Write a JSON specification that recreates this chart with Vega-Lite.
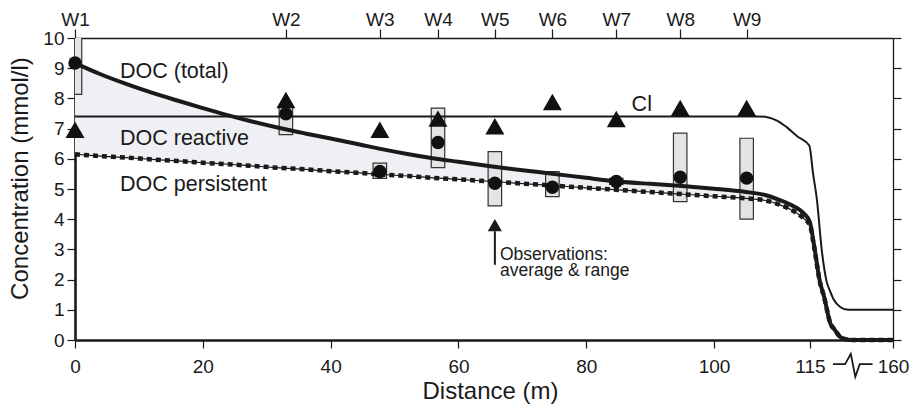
{
  "$schema": "https://vega.github.io/schema/vega-lite/v6.json",
  "width": 818,
  "height": 302,
  "autosize": {"type": "none"},
  "padding": {"left": 75, "top": 38, "right": 21, "bottom": 66},
  "config": {
    "font": "Liberation Sans",
    "view": {"stroke": null},
    "scale": {"continuousPadding": 0},
    "axis": {"labelFont": "Liberation Sans", "titleFont": "Liberation Sans", "labelColor": "#1a1a1a", "titleColor": "#1a1a1a", "domainColor": "#1a1a1a", "tickColor": "#1a1a1a", "grid": false, "titleFontWeight": "normal"}
  },
  "datasets": {
    "doc": [
      {"x": 0, "total": 9.17, "persistent": 6.15},
      {"x": 4, "total": 8.8, "persistent": 6.09},
      {"x": 8, "total": 8.48, "persistent": 6.04},
      {"x": 12, "total": 8.19, "persistent": 5.98},
      {"x": 16, "total": 7.93, "persistent": 5.93},
      {"x": 20, "total": 7.68, "persistent": 5.87},
      {"x": 24, "total": 7.44, "persistent": 5.82},
      {"x": 28, "total": 7.22, "persistent": 5.76},
      {"x": 32, "total": 7.02, "persistent": 5.7},
      {"x": 36, "total": 6.84, "persistent": 5.65},
      {"x": 40, "total": 6.67, "persistent": 5.59},
      {"x": 44, "total": 6.5, "persistent": 5.54},
      {"x": 48, "total": 6.32, "persistent": 5.48},
      {"x": 52, "total": 6.16, "persistent": 5.43},
      {"x": 56, "total": 6.02, "persistent": 5.37},
      {"x": 60, "total": 5.9, "persistent": 5.32},
      {"x": 65, "total": 5.75, "persistent": 5.25},
      {"x": 70, "total": 5.62, "persistent": 5.18},
      {"x": 75, "total": 5.5, "persistent": 5.11},
      {"x": 80, "total": 5.37, "persistent": 5.04},
      {"x": 85, "total": 5.25, "persistent": 4.97},
      {"x": 90, "total": 5.17, "persistent": 4.9},
      {"x": 95, "total": 5.1, "persistent": 4.83},
      {"x": 100, "total": 5.01, "persistent": 4.76},
      {"x": 105, "total": 4.9, "persistent": 4.69},
      {"x": 108, "total": 4.8, "persistent": 4.62},
      {"x": 110, "total": 4.66, "persistent": 4.5},
      {"x": 112, "total": 4.48, "persistent": 4.32},
      {"x": 114, "total": 4.2, "persistent": 4.03},
      {"x": 115, "total": 3.9, "persistent": 3.8},
      {"x": 115.6, "total": 3.2, "persistent": 3.15},
      {"x": 116.6, "total": 1.9, "persistent": 1.88},
      {"x": 117.2, "total": 1.45, "persistent": 1.44},
      {"x": 118.2, "total": 0.55, "persistent": 0.55},
      {"x": 118.8, "total": 0.36, "persistent": 0.36},
      {"x": 119.7, "total": 0.11, "persistent": 0.11},
      {"x": 120.5, "total": 0.03, "persistent": 0.03},
      {"x": 121.5, "total": 0, "persistent": 0},
      {"x": 128, "total": 0, "persistent": 0}
    ],
    "cl": [
      {"x": 0, "cl": 7.4},
      {"x": 50, "cl": 7.4},
      {"x": 100, "cl": 7.4},
      {"x": 107, "cl": 7.4},
      {"x": 108.5, "cl": 7.37},
      {"x": 110, "cl": 7.25},
      {"x": 111.4, "cl": 7.04},
      {"x": 113, "cl": 6.75},
      {"x": 114.9, "cl": 6.44},
      {"x": 115.5, "cl": 5.5},
      {"x": 116.1, "cl": 4.64},
      {"x": 116.85, "cl": 2.98},
      {"x": 117.6, "cl": 1.95},
      {"x": 118.15, "cl": 1.62},
      {"x": 118.7, "cl": 1.35},
      {"x": 119.7, "cl": 1.1},
      {"x": 120.5, "cl": 1.02},
      {"x": 121.5, "cl": 1.0},
      {"x": 128, "cl": 1.0}
    ],
    "obs": [
      {"well": "W1", "x": 0, "doc": 9.17, "lo": 8.13, "hi": 10.5, "cl": 6.96},
      {"well": "W2", "x": 33, "doc": 7.49, "lo": 6.8, "hi": 7.75, "cl": 7.95},
      {"well": "W3", "x": 47.7, "doc": 5.58, "lo": 5.35, "hi": 5.86, "cl": 6.96},
      {"well": "W4", "x": 56.8, "doc": 6.54, "lo": 5.71, "hi": 7.68, "cl": 7.33},
      {"well": "W5", "x": 65.7, "doc": 5.19, "lo": 4.44, "hi": 6.24, "cl": 7.08},
      {"well": "W6", "x": 74.7, "doc": 5.06, "lo": 4.75, "hi": 5.58, "cl": 7.88},
      {"well": "W7", "x": 84.7, "doc": 5.25, "lo": 5.15, "hi": 5.35, "cl": 7.32},
      {"well": "W8", "x": 94.7, "doc": 5.39, "lo": 4.58, "hi": 6.85, "cl": 7.68},
      {"well": "W9", "x": 105.1, "doc": 5.36, "lo": 4.0, "hi": 6.68, "cl": 7.68}
    ],
    "notes": [
      {"label": "DOC (total)", "x": 7.04, "y": 8.67, "kind": "big"},
      {"label": "DOC reactive", "x": 7.04, "y": 6.46, "kind": "big"},
      {"label": "DOC persistent", "x": 7.04, "y": 4.92, "kind": "big"},
      {"label": "Cl", "x": 87.1, "y": 7.57, "kind": "big"},
      {"label": "Observations:", "x": 66.5, "y": 2.66, "kind": "small"},
      {"label": "average & range", "x": 66.5, "y": 2.12, "kind": "small"}
    ],
    "arrow": [{"x": 65.7, "y": 2.49, "y2": 3.6, "head": 3.8}],
    "brk": [
      {"x": 118.6, "y": -0.8},
      {"x": 120.5, "y": -0.8},
      {"x": 121.4, "y": -0.46},
      {"x": 122.1, "y": -1.22},
      {"x": 122.8, "y": -0.8},
      {"x": 124.8, "y": -0.8}
    ]
  },
  "layer": [
    {
      "data": {"name": "doc"},
      "mark": {"type": "area", "fill": "#eef0f3", "interpolate": "monotone"},
      "encoding": {
        "x": {"field": "x", "type": "quantitative", "scale": {"domain": [0, 128], "nice": false, "zero": false, "padding": 0},
          "axis": {"orient": "bottom", "values": [0, 20, 40, 60, 80, 100, 115, 128], "labelExpr": "datum.value == 128 ? '160' : datum.label", "title": "Distance (m)", "titleFontSize": 24, "labelFontSize": 19, "tickSize": 8, "tickWidth": 1.2, "domainWidth": 2.6, "labelPadding": 9, "titleX": 415, "titleY": 58, "titleBaseline": "alphabetic", "labelFlush": false, "labelOverlap": false}},
        "y": {"field": "total", "type": "quantitative", "scale": {"domain": [0, 10], "nice": false},
          "axis": {"orient": "left", "values": [0, 1, 2, 3, 4, 5, 6, 7, 8, 9, 10], "title": "Concentration (mmol/l)", "titleFontSize": 24, "labelFontSize": 19, "tickSize": 8, "tickWidth": 1.2, "domainWidth": 2.6, "labelPadding": 3, "titleX": -48, "titleY": 140, "titleBaseline": "alphabetic", "labelFlush": false, "labelOverlap": false}},
        "y2": {"field": "persistent"}
      }
    },
    {
      "data": {"name": "obs"},
      "mark": {"type": "bar", "width": 13.5, "fill": "#e3e4e6", "stroke": "#333333", "strokeWidth": 1.2, "clip": true},
      "encoding": {
        "x": {"field": "x", "type": "quantitative", "scale": {"domain": [0, 128], "nice": false, "zero": false, "padding": 0},
          "axis": {"orient": "top", "values": [0, 33, 47.7, 56.8, 65.7, 74.7, 84.7, 94.7, 105.1], "labelExpr": "'W' + (indexof([0, 33, 47.7, 56.8, 65.7, 74.7, 84.7, 94.7, 105.1], datum.value) + 1)", "title": null, "labelFontSize": 19, "tickSize": 9, "tickWidth": 1.2, "domainWidth": 1.3, "labelPadding": 0, "labelFlush": false, "labelOverlap": false}},
        "y": {"field": "lo", "type": "quantitative", "scale": {"domain": [0, 10], "nice": false},
          "axis": {"orient": "right", "values": [0, 1, 2, 3, 4, 5, 6, 7, 8, 9, 10], "labels": false, "title": null, "tickSize": 8, "tickWidth": 1.2, "domainWidth": 1.3}},
        "y2": {"field": "hi"}
      }
    },
    {
      "data": {"name": "doc"},
      "mark": {"type": "line", "color": "#1a1a1a", "strokeWidth": 1.2, "interpolate": "monotone"},
      "encoding": {
        "x": {"field": "x", "type": "quantitative", "scale": {"domain": [0, 128], "nice": false, "zero": false, "padding": 0}, "axis": null},
        "y": {"field": "persistent", "type": "quantitative", "scale": {"domain": [0, 10], "nice": false}, "axis": null}
      }
    },
    {
      "data": {"name": "doc"},
      "mark": {"type": "line", "color": "#1a1a1a", "strokeWidth": 4.5, "strokeDash": [5, 4], "interpolate": "monotone"},
      "encoding": {
        "x": {"field": "x", "type": "quantitative", "scale": {"domain": [0, 128], "nice": false, "zero": false, "padding": 0}, "axis": null},
        "y": {"field": "persistent", "type": "quantitative", "scale": {"domain": [0, 10], "nice": false}, "axis": null}
      }
    },
    {
      "data": {"name": "doc"},
      "mark": {"type": "line", "color": "#1a1a1a", "strokeWidth": 4, "interpolate": "monotone"},
      "encoding": {
        "x": {"field": "x", "type": "quantitative", "scale": {"domain": [0, 128], "nice": false, "zero": false, "padding": 0}, "axis": null},
        "y": {"field": "total", "type": "quantitative", "scale": {"domain": [0, 10], "nice": false}, "axis": null}
      }
    },
    {
      "data": {"name": "cl"},
      "mark": {"type": "line", "color": "#1a1a1a", "strokeWidth": 2, "interpolate": "monotone"},
      "encoding": {
        "x": {"field": "x", "type": "quantitative", "scale": {"domain": [0, 128], "nice": false, "zero": false, "padding": 0}, "axis": null},
        "y": {"field": "cl", "type": "quantitative", "scale": {"domain": [0, 10], "nice": false}, "axis": null}
      }
    },
    {
      "data": {"name": "obs"},
      "mark": {"type": "point", "shape": "triangle-up", "filled": true, "size": 361, "color": "#111111", "opacity": 1},
      "encoding": {
        "x": {"field": "x", "type": "quantitative", "scale": {"domain": [0, 128], "nice": false, "zero": false, "padding": 0}, "axis": null},
        "y": {"field": "cl", "type": "quantitative", "scale": {"domain": [0, 10], "nice": false}, "axis": null}
      }
    },
    {
      "data": {"name": "obs"},
      "mark": {"type": "point", "shape": "circle", "filled": true, "size": 180, "color": "#111111", "opacity": 1},
      "encoding": {
        "x": {"field": "x", "type": "quantitative", "scale": {"domain": [0, 128], "nice": false, "zero": false, "padding": 0}, "axis": null},
        "y": {"field": "doc", "type": "quantitative", "scale": {"domain": [0, 10], "nice": false}, "axis": null}
      }
    },
    {
      "data": {"name": "notes"},
      "transform": [{"filter": "datum.kind == 'big'"}],
      "mark": {"type": "text", "align": "left", "baseline": "alphabetic", "fontSize": 21.5, "color": "#1a1a1a"},
      "encoding": {
        "x": {"field": "x", "type": "quantitative", "scale": {"domain": [0, 128], "nice": false, "zero": false, "padding": 0}, "axis": null},
        "y": {"field": "y", "type": "quantitative", "scale": {"domain": [0, 10], "nice": false}, "axis": null},
        "text": {"field": "label"}
      }
    },
    {
      "data": {"name": "notes"},
      "transform": [{"filter": "datum.kind == 'small'"}],
      "mark": {"type": "text", "align": "left", "baseline": "alphabetic", "fontSize": 17.5, "color": "#1a1a1a"},
      "encoding": {
        "x": {"field": "x", "type": "quantitative", "scale": {"domain": [0, 128], "nice": false, "zero": false, "padding": 0}, "axis": null},
        "y": {"field": "y", "type": "quantitative", "scale": {"domain": [0, 10], "nice": false}, "axis": null},
        "text": {"field": "label"}
      }
    },
    {
      "data": {"name": "arrow"},
      "mark": {"type": "rule", "color": "#1a1a1a", "strokeWidth": 2},
      "encoding": {
        "x": {"field": "x", "type": "quantitative", "scale": {"domain": [0, 128], "nice": false, "zero": false, "padding": 0}, "axis": null},
        "y": {"field": "y", "type": "quantitative", "scale": {"domain": [0, 10], "nice": false}, "axis": null},
        "y2": {"field": "y2"}
      }
    },
    {
      "data": {"name": "arrow"},
      "mark": {"type": "point", "shape": "triangle-up", "filled": true, "size": 200, "color": "#1a1a1a", "opacity": 1},
      "encoding": {
        "x": {"field": "x", "type": "quantitative", "scale": {"domain": [0, 128], "nice": false, "zero": false, "padding": 0}, "axis": null},
        "y": {"field": "head", "type": "quantitative", "scale": {"domain": [0, 10], "nice": false}, "axis": null}
      }
    },
    {
      "data": {"name": "brk"},
      "mark": {"type": "line", "color": "#1a1a1a", "strokeWidth": 1.8, "clip": false},
      "encoding": {
        "x": {"field": "x", "type": "quantitative", "scale": {"domain": [0, 128], "nice": false, "zero": false, "padding": 0}, "axis": null},
        "y": {"field": "y", "type": "quantitative", "scale": {"domain": [0, 10], "nice": false}, "axis": null}
      }
    }
  ],
  "resolve": {"axis": {"x": "independent", "y": "independent"}}
}
